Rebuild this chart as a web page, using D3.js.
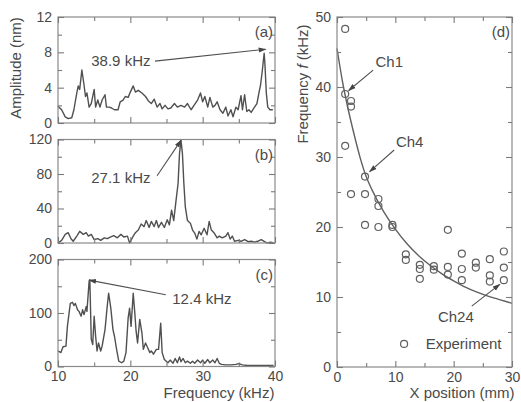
<!DOCTYPE html>
<html lang="en">
<head>
<meta charset="UTF-8" />
<title>Spectra and frequency vs position</title>
<style>
  body { margin: 0; background: #fff; }
  svg text { font-family: "Liberation Sans", Arial, sans-serif; fill: #4a4a4a; }
  .frame { fill: none; stroke: #8a8a8a; stroke-width: 1.2; }
  .axis line { stroke: #7a7a7a; stroke-width: 1.1; }
  .axis path { display: none; }
  .axis text { font-size: 14px; fill: #4a4a4a; }
  .spec { fill: none; stroke: #505050; stroke-width: 1.4; stroke-linejoin: round; }
  .fit { fill: none; stroke: #606060; stroke-width: 1.4; }
  .exp { fill: none; stroke: #606060; stroke-width: 1.2; }
  .arrow { stroke: #505050; stroke-width: 1.1; }
</style>
</head>
<body>
<script src="https://cdn.jsdelivr.net/npm/d3@7"></script>
<script>
// spectrum (a), amplitude in nm
var freqA = [10.0,10.5,11.0,11.4,11.9,12.2,12.6,12.8,13.0,13.3,13.6,13.8,14.0,14.3,14.6,15.0,15.2,15.5,15.8,16.1,16.5,16.7,17.1,17.4,17.8,18.3,18.6,19.0,19.3,19.7,20.0,20.4,20.7,21.1,21.6,22.1,22.5,22.9,23.3,23.7,24.1,24.4,24.8,25.2,25.6,26.1,26.5,27.0,27.5,27.9,28.4,28.8,29.3,29.7,30.0,30.3,30.7,31.0,31.4,31.7,32.0,32.4,32.8,33.2,33.5,33.9,34.2,34.6,34.9,35.3,35.5,35.8,36.1,36.4,36.7,37.1,37.5,37.8,38.0,38.2,38.5,38.6,38.8,39.0,39.3,39.7];
var ampA = [1.9,1.5,0.7,0.5,0.6,1.5,3.4,4.2,3.8,6.0,4.3,3.0,3.4,1.8,2.2,3.8,1.8,2.6,1.8,2.6,3.2,1.8,1.8,1.7,1.5,1.5,2.4,2.6,3.0,2.9,3.5,4.2,3.5,3.7,3.4,3.0,2.5,2.2,2.7,1.8,2.2,1.6,2.0,1.6,1.7,2.2,1.8,2.0,1.8,2.2,1.5,2.0,2.6,3.4,2.4,3.0,1.8,2.9,1.8,2.0,2.4,1.5,1.1,1.8,0.8,1.5,0.7,1.8,1.5,3.1,1.5,3.2,1.3,1.5,1.2,1.7,2.2,3.5,4.3,5.6,7.9,6.8,3.4,1.8,1.5,1.5];

// spectrum (b)
var freqB = [10.0,10.5,11.0,11.4,11.8,12.1,12.6,13.0,13.5,13.9,14.2,14.6,15.0,15.5,15.9,16.4,16.8,17.3,17.7,18.2,18.7,19.1,19.6,19.9,20.4,20.7,21.1,21.5,21.9,22.2,22.6,22.9,23.3,23.6,23.9,24.3,24.7,25.1,25.4,25.7,26.0,26.3,26.6,26.8,27.0,27.2,27.4,27.6,27.9,28.3,28.6,28.9,29.2,29.5,29.8,30.2,30.6,30.9,31.2,31.6,32.0,32.3,32.7,33.2,33.5,33.8,34.1,34.4,34.9,35.3,35.8,36.3,36.7,37.2,37.6,38.1,38.5,38.9,39.4,39.8];
var ampB = [0,3,10,12,5,2,8,13.5,10,12,8,10,4,5,3,6,5,7,8.5,6,10,7,8,0,8,12,15,22,19,26,18,25,19,26,18,24,18,27,21,38,26,48,69,104,119,104,69,42,26,23,15,11.5,4.5,13.5,9.5,17,9.5,25,15,11.5,6,8,6,8,12,4.5,8,2,3,2,4,1.5,2,1,2,4,2,0,1,0];

// spectrum (c)
var freqC = [10.0,10.4,10.7,11.1,11.3,11.7,12.0,12.2,12.4,12.7,12.9,13.2,13.4,13.6,13.9,14.0,14.3,14.4,14.6,14.8,15.0,15.2,15.4,15.6,15.9,16.1,16.5,16.8,17.0,17.3,17.6,17.8,18.1,18.4,18.8,19.1,19.4,19.7,19.9,20.1,20.4,20.6,20.8,21.0,21.3,21.6,21.8,22.1,22.4,22.7,22.9,23.2,23.6,23.9,24.2,24.4,24.7,25.2,25.5,25.9,26.2,26.5,26.8,27.0,27.3,27.6,27.9,28.3,28.6,28.9,29.3,29.7,30.0,30.3,30.7,31.0,31.4,31.7,32.0,32.3,32.6,33.2,33.9,34.6,35.0,35.5,36.2,37.1,38.0,38.9,39.8];
var ampC = [29,26,37,38,75,118,120,114,118,106,103,94,106,97,112,103,159,162,51,41,94,57,29,44,29,38,69,112,137,109,69,57,32,10,7,10,26,91,109,75,137,103,66,44,88,63,32,44,35,26,29,23,32,32,81,26,13,7,12,6,15,7,18,9,15,7,10,6,10,6,12,7,12,6,13,7,12,7,15,6,4,3,3,4,5.5,3,2,2,2,2,2];

// panel (d): experiment points and fitted curve
var posX = [1.4,1.4,1.4,2.4,2.4,2.4,4.8,4.8,4.8,7.1,7.1,7.1,9.5,9.5,11.8,11.8,14.2,14.2,14.2,16.6,16.6,19.0,19.0,19.0,21.4,21.4,21.4,23.8,23.8,26.2,26.2,26.2,28.6,28.6,28.6];
var freqExp = [48.3,39.0,31.6,38.0,37.2,24.7,27.2,24.7,20.3,24.0,23.0,20.0,20.3,20.0,16.1,15.3,14.6,14.0,12.6,14.4,13.9,19.6,14.3,13.2,16.2,14.0,12.4,14.9,14.2,15.4,13.1,12.2,16.5,14.2,12.4];
var curveX = [0,1,2,3,4,5,6,8,10,12,14,16,18,20,22,24,26,28,30];
var curveF = [45.5,40.5,36.5,33.0,29.8,27.2,25.3,22.2,19.7,17.6,15.9,14.5,13.3,12.3,11.4,10.7,10.1,9.6,9.1];

// ticks
var freqMajor = [10,20,30,40], freqMinor = [15,25,35];
var ticksA = [0,4,8,12], minorA = [2,6,10];
var ticksB = [0,40,80,120], minorB = [20,60,100];
var ticksC = [0,100,200], minorC = [50,150];
var posMajor = [0,10,20,30], posMinor = [5,15,25];
var fMajor = [0,10,20,30,40,50], fMinor = [5,15,25,35,45];

var svg = d3.select("body").append("svg")
  .attr("width", 521).attr("height", 402);

var defs = svg.append("defs");
defs.append("marker")
  .attr("id", "head")
  .attr("markerUnits", "userSpaceOnUse")
  .attr("viewBox", "0 -3 8 6")
  .attr("refX", 7).attr("refY", 0)
  .attr("markerWidth", 8).attr("markerHeight", 6)
  .attr("orient", "auto")
  .append("path").attr("d", "M0,-2.5L8,0L0,2.5Z").attr("fill", "#444");

var xF = d3.scaleLinear().domain([10, 40]).range([58, 275]);

function frame(x0, x1, y0, y1) {
  svg.append("rect").attr("class", "frame")
    .attr("x", x0).attr("y", y0).attr("width", x1 - x0).attr("height", y1 - y0);
}

// draws ticks on all four sides, pointing in; labels only where asked
function ticks(xs, ys, xMaj, xMin, yMaj, yMin, xLabels, yFmt) {
  var x0 = xs.range()[0], x1 = xs.range()[1];
  var y0 = ys.range()[1], y1 = ys.range()[0];
  svg.append("g").attr("class", "axis").attr("transform", "translate(" + x0 + ",0)")
    .call(d3.axisLeft(ys).tickValues(yMin).tickSize(-4).tickFormat(""));
  svg.append("g").attr("class", "axis").attr("transform", "translate(" + x0 + ",0)")
    .call(d3.axisLeft(ys).tickValues(yMaj).tickSize(-6).tickPadding(6).tickFormat(yFmt));
  svg.append("g").attr("class", "axis").attr("transform", "translate(" + x1 + ",0)")
    .call(d3.axisRight(ys).tickValues(yMin).tickSize(-4).tickFormat(""));
  svg.append("g").attr("class", "axis").attr("transform", "translate(" + x1 + ",0)")
    .call(d3.axisRight(ys).tickValues(yMaj).tickSize(-6).tickFormat(""));
  svg.append("g").attr("class", "axis").attr("transform", "translate(0," + y0 + ")")
    .call(d3.axisTop(xs).tickValues(xMin).tickSize(-4).tickFormat(""));
  svg.append("g").attr("class", "axis").attr("transform", "translate(0," + y0 + ")")
    .call(d3.axisTop(xs).tickValues(xMaj).tickSize(-6).tickFormat(""));
  svg.append("g").attr("class", "axis").attr("transform", "translate(0," + y1 + ")")
    .call(d3.axisBottom(xs).tickValues(xMin).tickSize(-4).tickFormat(""));
  svg.append("g").attr("class", "axis").attr("transform", "translate(0," + y1 + ")")
    .call(d3.axisBottom(xs).tickValues(xMaj).tickSize(-6).tickPadding(5)
      .tickFormat(xLabels ? d3.format("d") : ""));
}

function arrow(x1, y1, x2, y2) {
  svg.append("line").attr("class", "arrow")
    .attr("x1", x1).attr("y1", y1).attr("x2", x2).attr("y2", y2)
    .attr("marker-end", "url(#head)");
}

function label(txt, x, y, anchor, size) {
  svg.append("text").text(txt).attr("x", x).attr("y", y)
    .attr("text-anchor", anchor || "start")
    .style("font-size", (size || 15) + "px");
}

var panels = [
  {tag: "(a)", fx: freqA, fy: ampA, top: 17, bottom: 123, ymax: 12, maj: ticksA, min: minorA},
  {tag: "(b)", fx: freqB, fy: ampB, top: 139.5, bottom: 243, ymax: 120, maj: ticksB, min: minorB},
  {tag: "(c)", fx: freqC, fy: ampC, top: 259.5, bottom: 366.5, ymax: 200, maj: ticksC, min: minorC}
];

var yScales = [];
panels.forEach(function(p, i) {
  var y = d3.scaleLinear().domain([0, p.ymax]).range([p.bottom, p.top]);
  yScales.push(y);
  var line = d3.line()
    .x(function(d) { return xF(d[0]); })
    .y(function(d) { return y(d[1]); });
  svg.append("path").attr("class", "spec")
    .datum(d3.zip(p.fx, p.fy))
    .attr("d", line);
  frame(58, 275, p.top, p.bottom);
  ticks(xF, y, freqMajor, freqMinor, p.maj, p.min, i == 2, d3.format("d"));
  label(p.tag, 273, p.top + 20, "end", 15);
});

// peak annotations
var yA = yScales[0], yB = yScales[1], yC = yScales[2];
label("38.9 kHz", xF(14.6), yA(6.5), "start", 15);
arrow(xF(23.4), yA(7.0), xF(38.7), yA(8.35));
label("27.1 kHz", xF(14.6), yB(70), "start", 15);
arrow(xF(23.7), yB(78), xF(27.0), yB(119));
label("12.4 kHz", xF(25.8), yC(116), "start", 15);
arrow(xF(24.9), yC(134), xF(14.3), yC(161.5));

// axis titles
svg.append("text").text("Amplitude (nm)")
  .attr("transform", "translate(21,68) rotate(-90)")
  .attr("text-anchor", "middle").style("font-size", "15px");
label("Frequency (kHz)", 219, 398, "middle", 15);

// panel (d)
var xP = d3.scaleLinear().domain([0, 30]).range([337, 512]);
var yP = d3.scaleLinear().domain([0, 50]).range([367, 17]);

var fitLine = d3.line()
  .x(function(d) { return xP(d[0]); })
  .y(function(d) { return yP(d[1]); })
  .curve(d3.curveMonotoneX);
svg.append("path").attr("class", "fit")
  .datum(d3.zip(curveX, curveF))
  .attr("d", fitLine);

svg.selectAll("circle.exp")
  .data(d3.zip(posX, freqExp))
  .enter()
  .append("circle")
  .attr("class", "exp")
  .attr("cx", function(d) { return xP(d[0]); })
  .attr("cy", function(d) { return yP(d[1]); })
  .attr("r", 3.5);

frame(337, 512, 17, 367);
ticks(xP, yP, posMajor, posMinor, fMajor, fMinor, true, d3.format("d"));
label("(d)", 510, 37, "end", 15);

label("Ch1", xP(6.6), yP(42.9), "start", 15);
arrow(xP(6.2), yP(42.4), xP(2.0), yP(39.5));
label("Ch4", xP(10.1), yP(31.4), "start", 15);
arrow(xP(9.8), yP(31.0), xP(5.6), yP(27.9));
label("Ch24", xP(17.3), yP(6.4), "start", 15);
arrow(xP(23.1), yP(8.7), xP(27.9), yP(11.8));

svg.append("circle").attr("class", "exp")
  .attr("cx", xP(11.5)).attr("cy", yP(3.3)).attr("r", 3.5);
label("Experiment", xP(15.2), yP(2.6), "start", 15);

var fTitle = svg.append("text")
  .attr("transform", "translate(308,84) rotate(-90)")
  .attr("text-anchor", "middle").style("font-size", "15px");
fTitle.append("tspan").text("Frequency ");
fTitle.append("tspan").text("f").style("font-style", "italic");
fTitle.append("tspan").text(" (kHz)");
label("X position (mm)", 462, 398, "middle", 15);
</script>
</body>
</html>
